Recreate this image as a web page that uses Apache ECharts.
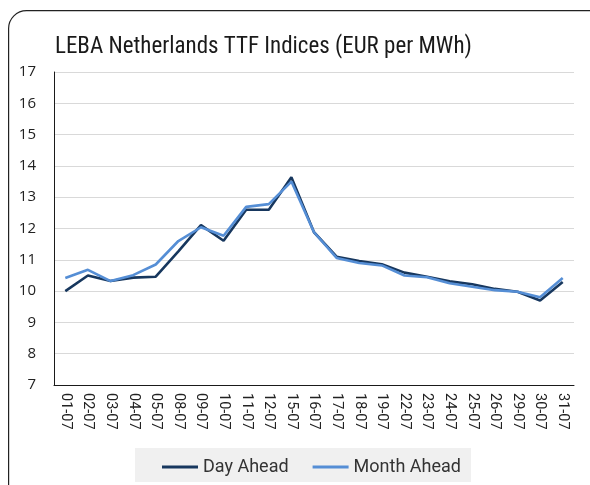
<!DOCTYPE html>
<html>
<head>
<meta charset="utf-8">
<script src="https://cdn.jsdelivr.net/npm/echarts@6/dist/echarts.min.js"></script>
<style>html,body{margin:0;padding:0;background:#fff}#c{width:590px;height:485px}</style>
</head>
<body>
<div id="c"></div>
<script>
const categories = ['01-07','02-07','03-07','04-07','05-07','08-07','09-07','10-07','11-07','12-07','15-07','16-07','17-07','18-07','19-07','22-07','23-07','24-07','25-07','26-07','29-07','30-07','31-07'];
const dayAhead   = [10.0,10.5,10.32,10.43,10.46,11.27,12.11,11.61,12.6,12.6,13.64,11.88,11.1,10.96,10.86,10.59,10.46,10.31,10.22,10.07,9.98,9.7,10.29];
const monthAhead = [10.42,10.68,10.32,10.51,10.85,11.6,12.04,11.77,12.69,12.78,13.5,11.88,11.06,10.9,10.82,10.5,10.44,10.25,10.14,10.03,9.98,9.8,10.42];
const yTicks = [7,8,9,10,11,12,13,14,15,16,17];

const chart = echarts.init(document.getElementById('c'), null, {renderer:'canvas'});
chart.setOption({
  animation:false,
  graphic:[
    {type:'rect', left:8, top:10, z:-10, shape:{width:610, height:520, r:18}, style:{fill:'#fff', stroke:'#222', lineWidth:1.2}},
    {type:'rect', left:135, top:448, z:-5, shape:{width:336, height:34}, style:{fill:'#f0f0f0'}}
  ],
  title:{text:'LEBA Netherlands TTF Indices (EUR per MWh)', left:50, top:31,
    textStyle:{fontFamily:'Roboto Condensed, Roboto, sans-serif', fontWeight:'normal', fontSize:23, color:'#1a1a1a'}},
  grid:{left:54, right:16, top:72, bottom:100, containLabel:false},
  legend:{top:453, left:157, itemWidth:36, itemHeight:3, itemGap:24,
    icon:'rect',
    textStyle:{fontFamily:'Roboto, sans-serif', fontSize:18, color:'#333'},
    data:['Day Ahead','Month Ahead']},
  xAxis:{type:'category', data:categories, boundaryGap:true,
    axisLine:{lineStyle:{color:'#1a1a1a', width:1}},
    axisTick:{show:false},
    axisLabel:{rotate:-90, interval:0, margin:8, fontFamily:'Roboto, sans-serif', fontSize:14.5, color:'#222'}},
  yAxis:{type:'value', min:7, max:17, interval:1,
    axisLine:{show:true, lineStyle:{color:'#1a1a1a', width:1}},
    axisTick:{show:false},
    splitLine:{lineStyle:{color:'#d9d9d9', width:1}},
    axisLabel:{margin:18, fontFamily:'Open Sans, sans-serif', fontSize:15, color:'#222',
      formatter:function(v){return yTicks.indexOf(v)>=0 ? String(v) : '';}}},
  series:[
    {name:'Day Ahead', type:'line', data:dayAhead, symbol:'none', lineStyle:{color:'#17375e', width:2.6}, itemStyle:{color:'#17375e'}, z:3},
    {name:'Month Ahead', type:'line', data:monthAhead, symbol:'none', lineStyle:{color:'#558ed5', width:2.6}, itemStyle:{color:'#558ed5'}, z:4}
  ]
});
</script>
</body>
</html>
